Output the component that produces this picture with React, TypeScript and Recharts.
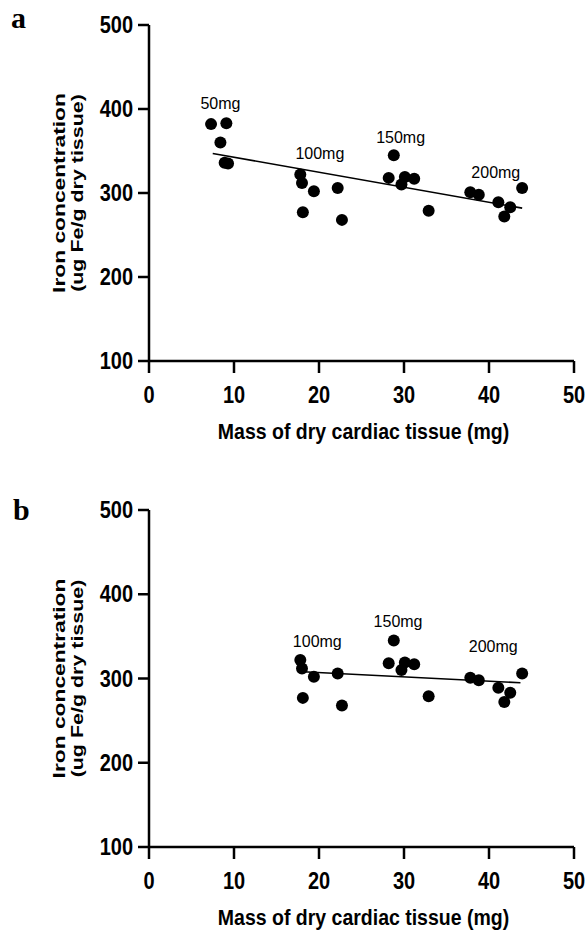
import React from 'react';
import { ScatterChart, Scatter, XAxis, YAxis, ReferenceLine } from 'recharts';

// panel a: all four groups (50, 100, 150, 200 mg)
const massA = [7.3, 9.1, 8.4, 8.9, 9.3, 17.8, 18.0, 18.1, 19.4, 22.2, 22.7, 28.8, 28.2, 30.1, 29.7, 31.2, 32.9, 37.8, 38.8, 41.1, 42.5, 41.8, 43.9];
const ironA = [382, 383, 360, 336, 335, 322, 312, 277, 302, 306, 268, 345, 318, 319, 310, 317, 279, 301, 298, 289, 283, 272, 306];

// panel b: 50mg group left out
const massB = [17.8, 18.0, 18.1, 19.4, 22.2, 22.7, 28.8, 28.2, 30.1, 29.7, 31.2, 32.9, 37.8, 38.8, 41.1, 42.5, 41.8, 43.9];
const ironB = [322, 312, 277, 302, 306, 268, 345, 318, 319, 310, 317, 279, 301, 298, 289, 283, 272, 306];

// fitted line end points
const trendA = [{ x: 7.5, y: 347 }, { x: 43.9, y: 282 }];
const trendB = [{ x: 18.1, y: 308 }, { x: 43.7, y: 295 }];

// group annotations
const groupNamesA = ['50mg', '100mg', '150mg', '200mg'];
const groupXA = [8.4, 20.1, 29.6, 40.8];
const groupYA = [406, 347, 365, 324];
const groupNamesB = ['100mg', '150mg', '200mg'];
const groupXB = [19.8, 29.3, 40.5];
const groupYB = [343, 367, 337];

const xTicks = [0, 10, 20, 30, 40, 50];
const yTicks = [100, 200, 300, 400, 500];

const FONT = '"Liberation Sans", Arial, sans-serif';

const zip = (xs: number[], ys: number[]) => xs.map((x, i) => ({ x, y: ys[i] }));
const notes = (names: string[], xs: number[], ys: number[]) =>
    names.map((name, i) => ({ x: xs[i], y: ys[i], name }));

const XTick = (props: any) => {
    const { x, y, payload } = props;
    return (
        <text
            transform={`translate(${x},${y + 30}) scale(1,1.18)`}
            textAnchor="middle"
            fontFamily={FONT}
            fontWeight="bold"
            fontSize={20}
            fill="#000"
        >
            {payload.value}
        </text>
    );
};

const YTick = (props: any) => {
    const { x, y, payload } = props;
    return (
        <text
            transform={`translate(${x - 5},${y + 8}) scale(1,1.15)`}
            textAnchor="end"
            fontFamily={FONT}
            fontWeight="bold"
            fontSize={20}
            fill="#000"
        >
            {payload.value}
        </text>
    );
};

const YLabel = (props: any) => {
    const vb = props.viewBox || { x: 0, y: 0, width: 149, height: 336 };
    const cy = vb.y + vb.height / 2;
    const style = { fontFamily: FONT, fontWeight: 'bold' as const, fontSize: 16.5, fill: '#000' };
    return (
        <g>
            <text transform={`translate(${vb.x + 65},${cy}) rotate(-90) scale(1.38,1)`} textAnchor="middle" {...style}>
                Iron concentration
            </text>
            <text transform={`translate(${vb.x + 83},${cy}) rotate(-90) scale(1.3,1)`} textAnchor="middle" {...style}>
                (ug Fe/g dry tissue)
            </text>
        </g>
    );
};

const XLabel = (props: any) => {
    const vb = props.viewBox || { x: 149, y: 361, width: 425, height: 109 };
    return (
        <text
            transform={`translate(${vb.x + vb.width / 2 + 2},${vb.y + 78}) scale(1,1.12)`}
            textAnchor="middle"
            fontFamily={FONT}
            fontWeight="bold"
            fontSize={19.5}
            fill="#000"
        >
            Mass of dry cardiac tissue (mg)
        </text>
    );
};

const Dot = (props: any) => <circle cx={props.cx} cy={props.cy} r={6} fill="#000" />;

const Note = (props: any) => (
    <text x={props.cx} y={props.cy + 5} textAnchor="middle" fontFamily={FONT} fontSize={16} fill="#000">
        {props.payload.name}
    </text>
);

const axisStyle = { stroke: '#000', strokeWidth: 2.5 };

interface PanelProps {
    points: { x: number; y: number }[];
    trend: { x: number; y: number }[];
    labels: { x: number; y: number; name: string }[];
    height: number;
    top: number;
    xAxisHeight: number;
}

const Panel: React.FC<PanelProps> = ({ points, trend, labels, height, top, xAxisHeight }) => (
    <ScatterChart width={587} height={height} margin={{ top, right: 13, left: 0, bottom: 0 }}>
        <XAxis
            type="number"
            dataKey="x"
            domain={[0, 50]}
            ticks={xTicks}
            interval={0}
            height={xAxisHeight}
            tickSize={12}
            tickMargin={0}
            axisLine={axisStyle}
            tickLine={axisStyle}
            tick={<XTick />}
            label={<XLabel />}
        />
        <YAxis
            type="number"
            dataKey="y"
            domain={[100, 500]}
            ticks={yTicks}
            interval={0}
            width={149}
            tickSize={11}
            tickMargin={0}
            axisLine={axisStyle}
            tickLine={axisStyle}
            tick={<YTick />}
            label={<YLabel />}
        />
        <ReferenceLine segment={trend} stroke="#000" strokeWidth={1.6} ifOverflow="extendDomain" />
        <Scatter data={points} shape={<Dot />} isAnimationActive={false} />
        <Scatter data={labels} shape={<Note />} isAnimationActive={false} />
    </ScatterChart>
);

export default function App() {
    return (
        <div style={{ position: 'absolute', left: 0, top: 0, width: 587, height: 931, background: '#fff' }}>
            <div style={{ position: 'absolute', left: 0, top: 0 }}>
                <Panel points={zip(massA, ironA)} trend={trendA} labels={notes(groupNamesA, groupXA, groupYA)} height={470} top={25} xAxisHeight={109} />
            </div>
            <div style={{ position: 'absolute', left: 0, top: 470 }}>
                <Panel points={zip(massB, ironB)} trend={trendB} labels={notes(groupNamesB, groupXB, groupYB)} height={461} top={40} xAxisHeight={84} />
            </div>
            <svg width={587} height={931} style={{ position: 'absolute', left: 0, top: 0, pointerEvents: 'none' }}>
                <text x={11} y={28} fontFamily='"Liberation Serif", "Times New Roman", serif' fontWeight="bold" fontSize={30} fill="#000">
                    a
                </text>
                <text x={13} y={520} fontFamily='"Liberation Serif", "Times New Roman", serif' fontWeight="bold" fontSize={30} fill="#000">
                    b
                </text>
            </svg>
        </div>
    );
}
